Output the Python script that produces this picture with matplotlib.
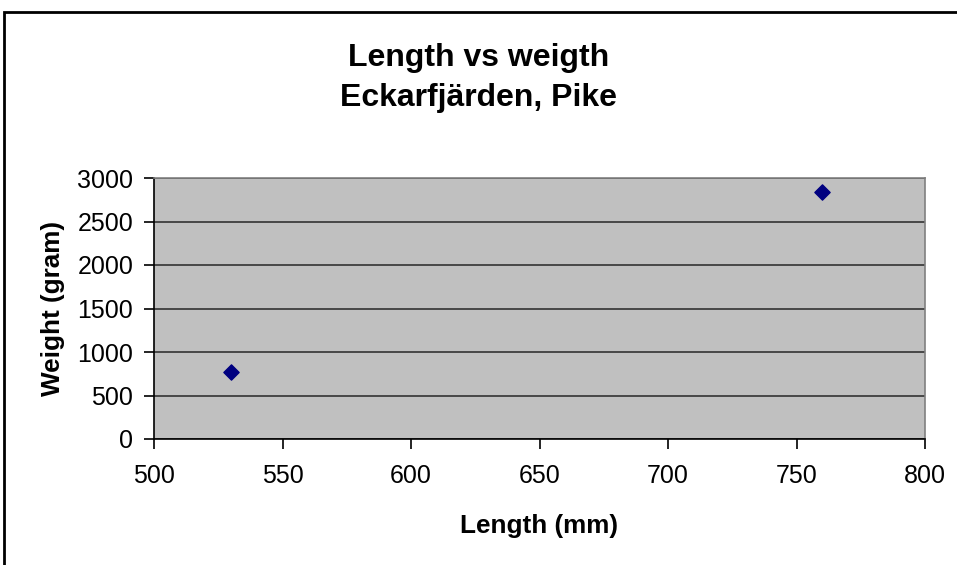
import matplotlib.pyplot as plt
from matplotlib.patches import Rectangle

plt.rcParams['font.family'] = ['Liberation Sans', 'DejaVu Sans']

length_mm = [530, 760]
weight_g = [770, 2840]
x_ticks = [500, 550, 600, 650, 700, 750, 800]
y_ticks = [0, 500, 1000, 1500, 2000, 2500, 3000]

fig = plt.figure(figsize=(9.57, 5.65), dpi=100)
ax = fig.add_axes([154 / 957, 1 - 439 / 565, 771 / 957, 261 / 565])

# chart frame around the whole figure
fig.patches.append(Rectangle((4 / 957, -0.1), 1.2, 1 - 12 / 565 + 0.1,
                             transform=fig.transFigure, fill=False,
                             edgecolor='black', linewidth=2))

ax.set_facecolor('#C0C0C0')
ax.scatter(length_mm, weight_g, marker='D', s=60, color='#000080', zorder=3)

ax.set_xlim(500, 800)
ax.set_ylim(0, 3000)
ax.set_xticks(x_ticks)
ax.set_yticks(y_ticks)
ax.grid(axis='y', color='#333333', linewidth=1.2)
ax.set_axisbelow(True)

for side in ['top', 'right']:
    ax.spines[side].set_color('#808080')
    ax.spines[side].set_linewidth(1.2)
for side in ['left', 'bottom']:
    ax.spines[side].set_color('black')
    ax.spines[side].set_linewidth(1.2)

ax.tick_params(axis='both', labelsize=18, length=7, width=1.2, direction='out')
ax.tick_params(axis='x', pad=11)
ax.tick_params(axis='y', pad=8)

ax.set_xlabel('Length (mm)', fontsize=18.8, fontweight='bold', labelpad=19)
ax.set_ylabel('Weight (gram)', fontsize=18.8, fontweight='bold', labelpad=9)

fig.text(0.5, 1 - 66 / 565, 'Length vs weigth', ha='center', va='baseline',
         fontsize=23, fontweight='bold')
fig.text(0.5, 1 - 106 / 565, 'Eckarfjärden, Pike', ha='center', va='baseline',
         fontsize=23, fontweight='bold')

fig.savefig('out.png', dpi=100)
